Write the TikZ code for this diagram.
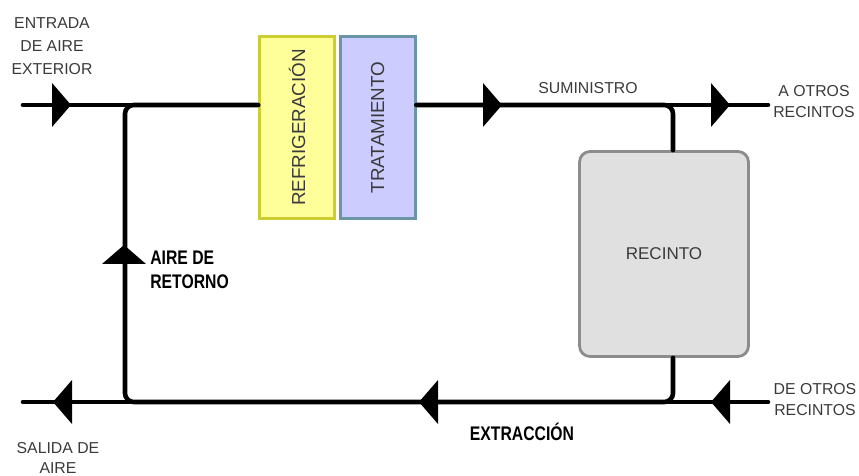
\documentclass[tikz,border=0pt]{standalone}
\usepackage{fontspec}
\setmainfont{Liberation Sans}
\newfontfamily\narrowsans[FakeStretch=0.8]{Liberation Sans}
\usetikzlibrary{positioning}

\definecolor{refrigfill}{HTML}{FFFF99}
\definecolor{refrigline}{HTML}{CCCC33}
\definecolor{tratfill}{HTML}{CCCCFF}
\definecolor{tratline}{HTML}{6A95A5}
\definecolor{recfill}{HTML}{E0E0E0}
\definecolor{recline}{HTML}{8C8C8C}
\definecolor{labelgray}{HTML}{3A3A3A}

\begin{document}
\begin{tikzpicture}[
  x=0.02cm, y=-0.02cm,
  duct/.style={line width=2.6pt, line cap=round},
  unit/.style={draw, line width=1.6pt, minimum width=1.5cm, minimum height=3.64cm,
    inner sep=0pt, text=labelgray, font=\fontsize{10.7}{12}\selectfont},
  lbl/.style={align=center, text=labelgray, inner sep=0pt},
  blbl/.style={align=left, inner sep=0pt, font=\narrowsans\bfseries\fontsize{11.2}{13.6}\selectfont},
  flow/.pic={\fill (-9,-22) -- (10,0) -- (-9,22) -- cycle;}
]
\useasboundingbox (0,0) rectangle (859,476);

% equipos
\node[unit, fill=refrigfill, draw=refrigline] (refrig) at (297,127.5) {\rotatebox{90}{REFRIGERACIÓN}};
\node[unit, fill=tratfill, draw=tratline, right=1.6pt of refrig] (trat) {\rotatebox{90}{TRATAMIENTO}};
\node[draw=recline, fill=recfill, line width=1.6pt, rounded corners=6pt,
  minimum width=3.38cm, minimum height=4.1cm, text=labelgray,
  font=\fontsize{9.7}{11}\selectfont] (recinto) at (664,254) {RECINTO};

% puntos de la red
\coordinate (supin) at (23,105);
\coordinate (supout) at (768,105);
\coordinate (extin) at (768,402);
\coordinate (extout) at (23,402);
\coordinate (rettop) at (125,105);
\coordinate (retbot) at (125,402);
\coordinate (rectap) at (673,105);
\coordinate (recdrain) at (673,402);

% conductos
\draw[duct] (supin) -- (refrig.west |- supin);
\draw[duct] (trat.east |- supin) -- (supout);
\draw[duct] (extin) -- (extout);
\draw[duct, rounded corners=5pt] (trat.east |- supin) -- (rectap) -- (rectap |- recinto.north);
\draw[duct, rounded corners=5pt] (recdrain |- recinto.south) -- (recdrain) -- (retbot) -- (rettop) -- (refrig.west |- supin);

% sentido del aire
\pic at (61,105) {flow};
\pic at (492,105) {flow};
\pic at (720,105) {flow};
\pic[rotate=180] at (63,402) {flow};
\pic[rotate=180] at (429,402) {flow};
\pic[rotate=180] at (721,402) {flow};
\pic[rotate=90] at (124,255) {flow};

% rotulos
\node[lbl, font=\fontsize{9}{13}\selectfont] (entrada) at (52,46) {ENTRADA\\DE AIRE\\EXTERIOR};
\node[lbl, font=\fontsize{9}{12}\selectfont] (aotros) at (814,102) {A OTROS\\RECINTOS};
\node[lbl, font=\fontsize{9}{12}\selectfont] (deotros) at (815,400) {DE OTROS\\RECINTOS};
\node[lbl, font=\fontsize{9}{11.5}\selectfont] (salida) at (58,458) {SALIDA DE\\AIRE};
\node[lbl, font=\fontsize{9}{11}\selectfont] (sumin) at (588,88) {SUMINISTRO};
\node[blbl, anchor=west] (retorno) at (150,270) {AIRE DE\\RETORNO};
\node[blbl] (extr) at (522,432) {EXTRACCIÓN};

\end{tikzpicture}
\end{document}
